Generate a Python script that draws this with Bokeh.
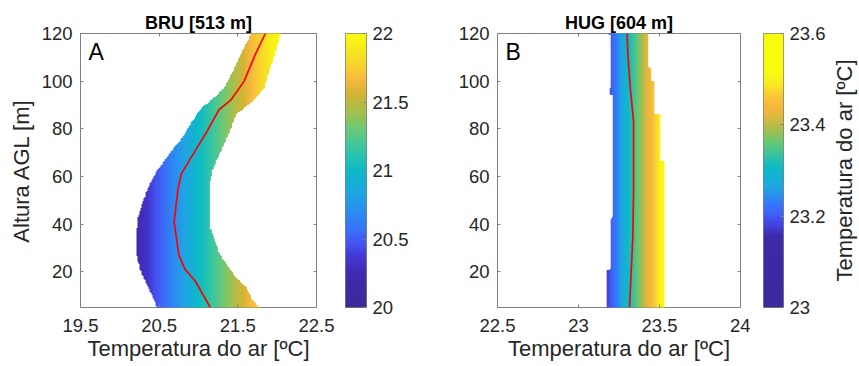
import numpy as np
from bokeh.plotting import figure
from bokeh.models import LinearColorMapper, FixedTicker, LinearAxis, Label, Title
from bokeh.layouts import row
from bokeh.embed import file_html
from bokeh.resources import INLINE

# ---------------- data: BRU [513 m] ----------------
bru_left_h = [5, 7.9, 13.4, 20.4, 27.4, 34.4, 41.3, 48.3, 55.3, 62.3, 69.2, 76.2, 83.2, 88.7, 92.9, 97.1, 104.1, 111.1, 120]
bru_left_t = [20.47, 20.44, 20.36, 20.26, 20.21, 20.21, 20.22, 20.28, 20.36, 20.47, 20.62, 20.79, 20.92, 21.03, 21.19, 21.32, 21.43, 21.53, 21.66]
bru_right_h = [5, 7.9, 13.4, 17.6, 20.4, 27.4, 34.4, 38.5, 48.3, 55.3, 59.5, 62.3, 66.4, 73.4, 80.4, 86.0, 88.7, 92.9, 97.1, 104.1, 111.1, 120]
bru_right_t = [21.77, 21.68, 21.60, 21.47, 21.41, 21.26, 21.19, 21.14, 21.14, 21.14, 21.15, 21.17, 21.22, 21.32, 21.41, 21.47, 21.58, 21.72, 21.83, 21.89, 21.96, 22.04]
bru_mean_h = [5, 16, 21, 27, 41, 55, 61, 72, 79, 88, 92, 100, 111, 120]
bru_mean_t = [21.15, 20.96, 20.83, 20.75, 20.69, 20.74, 20.78, 20.98, 21.11, 21.26, 21.41, 21.58, 21.72, 21.85]

# ---------------- data: HUG [604 m] ----------------
hug_left_h = [5, 20.6, 21.0, 42.4, 42.8, 94.0, 94.4, 97.0, 97.4, 119.0, 120]
hug_left_t = [23.177, 23.177, 23.20, 23.20, 23.21, 23.21, 23.193, 23.193, 23.20, 23.20, 23.18]
hug_right_h = [5, 66.2, 66.6, 85.8, 86.2, 99.7, 100.1, 105.3, 105.7, 120]
hug_right_t = [23.527, 23.527, 23.502, 23.502, 23.465, 23.465, 23.444, 23.444, 23.428, 23.428]
hug_mean_h = [5, 20, 34, 55, 83, 97, 111, 120]
hug_mean_t = [23.315, 23.325, 23.335, 23.34, 23.34, 23.32, 23.305, 23.30]

# ---------------- axes / labels ----------------
bru_xticks = [19.5, 20.5, 21.5, 22.5]
hug_xticks = [22.5, 23.0, 23.5, 24.0]
yticks = [20, 40, 60, 80, 100, 120]
bru_cticks = [20.0, 20.5, 21.0, 21.5, 22.0]
bru_clabels = ["20", "20.5", "21", "21.5", "22"]
hug_cticks = [23.0, 23.2, 23.4, 23.6]
hug_clabels = ["23", "23.2", "23.4", "23.6"]
bru_title = "BRU [513 m]"
hug_title = "HUG [604 m]"
xlabel = "Temperatura do ar [ºC]"
ylabel = "Altura AGL [m]"
clabel = "Temperatura do ar [ºC]"

# colour stops (parula-like, as in the colorbars)
stops_a = [(0.00, "#3b2a98"), (0.12, "#3e2bb0"), (0.18, "#4436d0"), (0.23, "#4452f0"),
           (0.28, "#3a70f8"), (0.35, "#2a8ef0"), (0.42, "#1ea8e0"), (0.50, "#0cbac8"),
           (0.59, "#3cc79c"), (0.66, "#72c872"), (0.71, "#a2c050"), (0.78, "#d2b434"),
           (0.83, "#f8b840"), (0.90, "#f6da2a"), (1.00, "#f9fb0e")]
stops_b = [(0.00, "#3a2a9c"), (0.26, "#3d2aa8"), (0.30, "#4440e0"), (0.34, "#4060f8"),
           (0.39, "#3080f8"), (0.44, "#1ea8e0"), (0.51, "#0cbac8"), (0.60, "#62c878"),
           (0.66, "#b4bc46"), (0.72, "#f4b63c"), (0.76, "#f8c038"), (0.82, "#f8ec22"),
           (0.86, "#f9fb0e"), (1.00, "#f9fb0e")]

FONT = "Liberation Sans"
TXT = "#262626"
FRAME = "#808080"
TICK_FS = "18.5px"
LAB_FS = "22px"
CLAB_FS = "22px"

FH = 274      # frame height
MB_TOP = 33
MB_BOT = 59


def make_palette(stops, n=256):
    fr = np.array([s[0] for s in stops])
    rgb = np.array([[int(s[1][i:i + 2], 16) for i in (1, 3, 5)] for s in stops], dtype=float)
    out = []
    for v in np.linspace(0, 1, n):
        c = [np.interp(v, fr, rgb[:, k]) for k in range(3)]
        out.append("#%02x%02x%02x" % tuple(int(round(x)) for x in c))
    return out


def band_image(lh, lt, rh, rt, x0, x1, h0, h1, nx, ny):
    xs = np.linspace(x0, x1, nx)
    hs = np.linspace(h0, h1, ny)
    L = np.interp(hs, lh, lt)
    R = np.interp(hs, rh, rt)
    X = np.tile(xs, (ny, 1))
    return np.where((X >= L[:, None]) & (X <= R[:, None]), X, np.nan)


def base_fig(fw, mb_left, mb_right, xr, yr, **kw):
    return figure(frame_width=fw, frame_height=FH, min_border_left=mb_left, min_border_right=mb_right,
                  min_border_top=MB_TOP, min_border_bottom=MB_BOT, x_range=xr, y_range=yr,
                  output_backend="svg", toolbar_location=None, tools="", title=None, **kw)


def tick_style(ax):
    ax.axis_line_color = None
    ax.major_tick_in = 3
    ax.major_tick_out = 0
    ax.major_tick_line_color = FRAME
    ax.minor_tick_line_color = None
    ax.major_label_text_font = FONT
    ax.major_label_text_font_size = TICK_FS
    ax.major_label_text_color = TXT


def label_style(ax, text, size, standoff):
    ax.axis_label = text
    ax.axis_label_standoff = standoff
    ax.axis_label_text_font = FONT
    ax.axis_label_text_font_size = size
    ax.axis_label_text_font_style = "normal"
    ax.axis_label_text_color = TXT


def panel(title, letter, lh, lt, rh, rt, mh, mt, xr, xticks, mapper, mb_left, mb_right, fw, show_ylabel):
    p = base_fig(fw, mb_left, mb_right, xr, (5, 120))
    x0 = min(lt + rt) - 0.02
    x1 = max(lt + rt) + 0.02
    nx = int((x1 - x0) / (xr[1] - xr[0]) * fw * 1.5)
    ny = 240
    img = band_image(lh, lt, rh, rt, x0, x1, 5, 120, nx, ny)
    dx = (x1 - x0) / (nx - 1)
    dh = 115 / (ny - 1)
    p.image(image=[img], x=x0 - dx / 2, y=5 - dh / 2, dw=x1 - x0 + dx, dh=115 + dh, color_mapper=mapper)
    p.line(x=mt, y=mh, line_color="#ff0000", line_width=1.7)

    p.xaxis.ticker = FixedTicker(ticks=xticks)
    p.yaxis.ticker = FixedTicker(ticks=yticks)
    for ax in p.xaxis + p.yaxis:
        tick_style(ax)
    p.xaxis.major_label_standoff = 11
    p.yaxis.major_label_standoff = 8
    p.xaxis.major_label_overrides = {v: ("%g" % v) for v in xticks}
    label_style(p.xaxis[0], xlabel, LAB_FS, 1)
    if show_ylabel:
        label_style(p.yaxis[0], ylabel, LAB_FS, 5)

    # mirrored ticks on top and right (box style)
    for side, tk in (("above", xticks), ("right", yticks)):
        ax = LinearAxis(ticker=FixedTicker(ticks=tk))
        tick_style(ax)
        ax.major_label_text_font_size = "1px"
        ax.major_label_text_color = None
        ax.major_label_standoff = 0
        p.add_layout(ax, side)

    p.add_layout(Title(text=title, align="center", text_font=FONT, text_font_size="18px",
                       text_font_style="bold", text_color="black", standoff=2, offset=0), "above")
    p.add_layout(Label(x=8, y=FH - 18, x_units="screen", y_units="screen", text=letter,
                       text_align="left", text_baseline="alphabetic", text_font=FONT,
                       text_font_size="23px", text_color="black"))
    p.grid.visible = False
    p.outline_line_color = FRAME
    p.border_fill_color = "white"
    return p


def colorbar(mapper, low, high, ticks, labels, mb_left, mb_right, fw):
    c = base_fig(fw, mb_left, mb_right, (0, 1), (low, high),
                 x_axis_location=None, y_axis_location="right")
    grad = np.linspace(low, high, 512).reshape(512, 1)
    c.image(image=[grad], x=0, y=low, dw=1, dh=high - low, color_mapper=mapper)
    ax = c.yaxis[0]
    ax.ticker = FixedTicker(ticks=ticks)
    ax.major_label_overrides = dict(zip(ticks, labels))
    tick_style(ax)
    ax.major_label_standoff = 6
    c.grid.visible = False
    c.outline_line_color = FRAME
    c.border_fill_color = "white"
    return c


def label_strip(text, mb_left, mb_right):
    s = base_fig(1, mb_left, mb_right, (0, 1), (0, 1), x_axis_location=None)
    ax = s.yaxis[0]
    ax.ticker = FixedTicker(ticks=[])
    ax.axis_line_color = None
    ax.major_tick_line_color = None
    ax.minor_tick_line_color = None
    ax.major_label_standoff = 0
    label_style(ax, text, CLAB_FS, 4)
    s.grid.visible = False
    s.outline_line_color = None
    s.background_fill_color = "white"
    s.border_fill_color = "white"
    return s


pal_a = make_palette(stops_a)
pal_b = make_palette(stops_b)
map_a = LinearColorMapper(palette=pal_a, low=20, high=22, nan_color=(0, 0, 0, 0.0))
map_b = LinearColorMapper(palette=pal_b, low=23, high=23.6, nan_color=(0, 0, 0, 0.0))

pa = panel(bru_title, "A", bru_left_h, bru_left_t, bru_right_h, bru_right_t, bru_mean_h, bru_mean_t,
           (19.5, 22.5), bru_xticks, map_a, 80, 22, 236, True)
ca = colorbar(map_a, 20, 22, bru_cticks, bru_clabels, 7, 54, 21)
pb = panel(hug_title, "B", hug_left_h, hug_left_t, hug_right_h, hug_right_t, hug_mean_h, hug_mean_t,
           (22.5, 24.0), hug_xticks, map_b, 77, 10, 243, False)
cb = colorbar(map_b, 23, 23.6, hug_cticks, hug_clabels, 13, 42, 20)
cl = label_strip(clabel, 27, 6)

layout = row(pa, ca, pb, cb, cl, spacing=0)
open("out.html", "w").write(file_html(layout, INLINE))
